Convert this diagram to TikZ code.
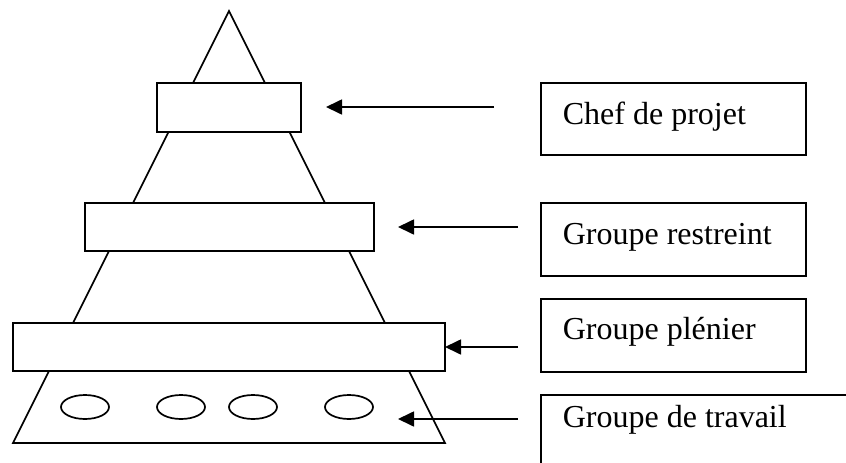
\documentclass[tikz,border=0pt]{standalone}
\usepackage{fontspec}
\setmainfont{Liberation Serif}
\usetikzlibrary{arrows.meta,shapes.geometric}
\begin{document}
\begin{tikzpicture}[x=1pt,y=-1pt, line width=1.7pt,
  tier/.style={draw, fill=white, rectangle, inner sep=0pt, outer sep=0pt},
  member/.style={draw, ellipse, minimum width=48pt, minimum height=24pt, inner sep=0pt},
  legendbox/.style={draw, rectangle, minimum width=265pt, minimum height=72pt, inner sep=0pt},
  legendtext/.style={anchor=base west, inner sep=0pt, font=\fontsize{32}{38}\selectfont},
  pointer/.style={-{Triangle[length=16pt,width=15pt]}}]
\useasboundingbox (0,0) rectangle (846,463);
% pyramid outline
\coordinate (apex) at (229,11);
\coordinate (baseL) at (13,443);
\coordinate (baseR) at (445,443);
\draw (apex) -- (baseR) -- (baseL) -- cycle;
% tiers
\node[tier, minimum width=144pt, minimum height=49pt] (chef) at (229,107.5) {};
\node[tier, minimum width=289pt, minimum height=48pt] (restreint) at (229.5,227) {};
\node[tier, minimum width=432pt, minimum height=48pt] (plenier) at (229,347) {};
% working groups
\node[member] (g1) at (85,407) {};
\node[member] (g2) at (181,407) {};
\node[member] (g3) at (253,407) {};
\node[member] (g4) at (349,407) {};
% legend boxes
\node[legendbox] (lchef) at (673.5,119) {};
\node[legendbox, minimum height=73pt] (lrestreint) at (673.5,239.5) {};
\node[legendbox, minimum height=73pt] (lplenier) at (673.5,335.5) {};
\coordinate (ltravailBL) at (541,470);
\coordinate (ltravailTL) at (541,395);
\coordinate (ltravailTR) at (850,395);
\draw (ltravailBL) -- (ltravailTL) -- (ltravailTR);
% legend texts
\node[legendtext] (tchef) at (562,124) {Chef de projet};
\node[legendtext] (trestreint) at (562,244) {Groupe restreint};
\node[legendtext] (tplenier) at (562,339) {Groupe plénier};
\node[legendtext] (ttravail) at (562,427) {Groupe de travail};
% arrows
\coordinate (a1s) at (494,107);
\coordinate (a1e) at (326,107);
\coordinate (a2s) at (518,227);
\coordinate (a2e) at (398,227);
\coordinate (a3s) at (518,347);
\coordinate (a4s) at (518,419);
\coordinate (a4e) at (398,419);
\draw[pointer] (a1s) -- (a1e);
\draw[pointer] (a2s) -- (a2e);
\draw[pointer] (a3s) -- (plenier.east |- a3s);
\draw[pointer] (a4s) -- (a4e);
\end{tikzpicture}
\end{document}
